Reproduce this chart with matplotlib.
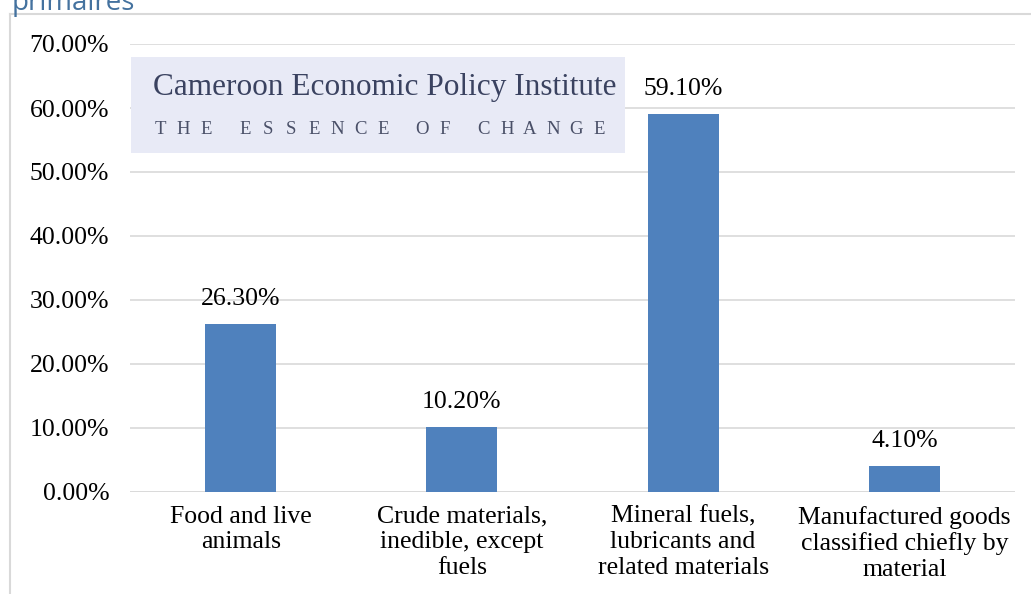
import matplotlib
matplotlib.use('Agg')
import matplotlib.pyplot as plt
from matplotlib.patches import Rectangle

categories = ['Food and live\nanimals',
              'Crude materials,\ninedible, except\nfuels',
              'Mineral fuels,\nlubricants and\nrelated materials',
              'Manufactured goods\nclassified chiefly by\nmaterial']
shares = [26.3, 10.2, 59.1, 4.1]
yticks = [0, 10, 20, 30, 40, 50, 60, 70]

plt.rcParams['font.family'] = ['Liberation Serif', 'DejaVu Serif']

W, H = 1031, 594
fig = plt.figure(figsize=(W / 100, H / 100), dpi=100)
ax = fig.add_axes([130 / W, 1 - 492 / H, 885 / W, (492 - 44) / H])

x = range(len(shares))
ax.bar(x, shares, width=0.32, color='#4F81BD', zorder=3)
for xi, v in zip(x, shares):
    ax.text(xi, v + 3.9, f'{v:.2f}%', ha='center', va='center', fontsize=18.5)

ax.set_xlim(-0.5, 3.5)
ax.set_ylim(0, 70)
ax.set_yticks(yticks)
ax.set_yticklabels([f'{t:.2f}%' for t in yticks], fontsize=18.5)
ax.set_xticks(list(x))
ax.set_xticklabels(categories, fontsize=18.5, linespacing=1.2)
ax.tick_params(axis='y', length=0, pad=15)
ax.tick_params(axis='x', length=0, pad=10)
ax.grid(axis='y', color='#D9D9D9', linewidth=1.2, zorder=0)
for s in ax.spines.values():
    s.set_visible(False)
ax.axhline(0, color='#D9D9D9', linewidth=1.2, zorder=2)

# watermark box
fig.add_artist(Rectangle((131 / W, 1 - 153 / H), (625 - 131) / W, (153 - 57) / H,
                         transform=fig.transFigure, facecolor='#E8EAF6',
                         edgecolor='none', zorder=4))
fig.text(385 / W, 1 - 88 / H, 'Cameroon Economic Policy Institute',
         ha='center', va='center', fontsize=22.5, color='#3A4260', zorder=5)
# spaced-out tagline, one letter at a time
px = 160
for wi, word in enumerate('THE ESSENCE OF CHANGE'.split()):
    if wi:
        px += 39
    for li, ch in enumerate(word):
        if li:
            px += 23
        fig.text(px / W, 1 - 130 / H, ch, ha='center', va='center',
                 fontsize=13.5, color='#4A5068', zorder=5)

# chart frame and cut-off title
fig.add_artist(plt.Line2D([10 / W, 10 / W], [0, 1 - 14 / H], transform=fig.transFigure,
                          color='#D9D9D9', linewidth=1.5))
fig.add_artist(plt.Line2D([10 / W, 1], [1 - 14 / H, 1 - 14 / H], transform=fig.transFigure,
                          color='#D9D9D9', linewidth=1.5))
fig.text(12 / W, 1 - 10 / H, 'primaires', ha='left', va='baseline', fontsize=20,
         color='#44729F', family=['Open Sans', 'DejaVu Sans'])

fig.savefig('out.png', dpi=100, facecolor='white')
